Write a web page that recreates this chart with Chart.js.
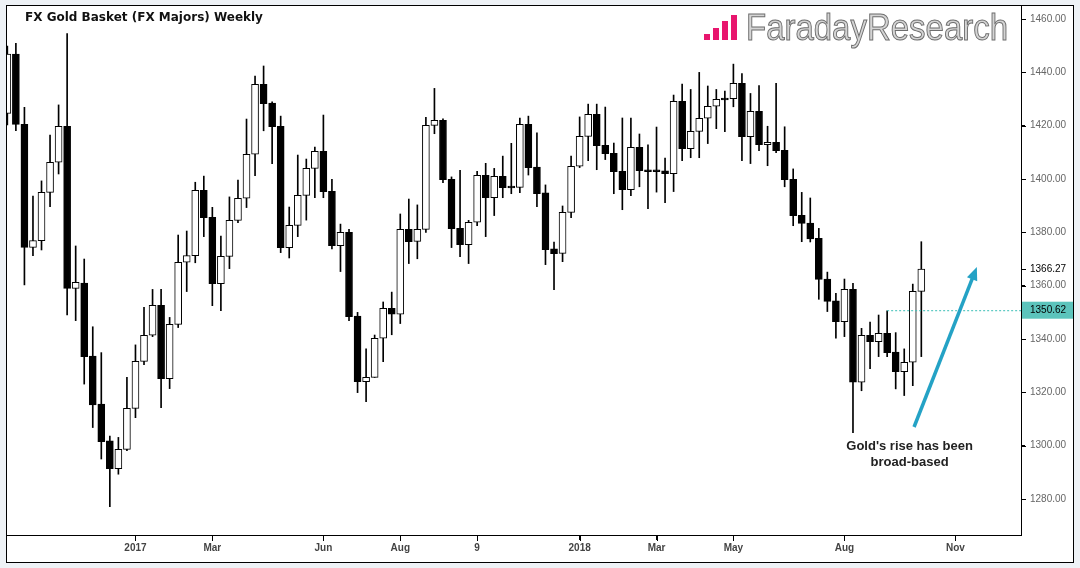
<!DOCTYPE html>
<html>
<head>
<meta charset="utf-8">
<title>FX Gold Basket (FX Majors) Weekly</title>
<script src="https://cdn.jsdelivr.net/npm/chart.js@4.4.1/dist/chart.umd.min.js"></script>
<style>
  html, body { margin: 0; padding: 0; background: #eef2f6; }
  #wrap { width: 1080px; height: 568px; }
</style>
</head>
<body>
<div id="wrap"><canvas id="goldChart" width="1080" height="568"></canvas></div>
<script>
// weekly OHLC (week index 0..107)
const opens = [
  1424.6, 1446.9, 1420.5, 1374.4, 1376.9, 1395.0, 1406.3, 1419.8, 1359.0, 1361.0,
  1333.6, 1315.6, 1301.8, 1291.4, 1298.6, 1314.0, 1331.6, 1341.4, 1352.6, 1325.1,
  1345.5, 1368.8, 1371.3, 1395.8, 1385.6, 1360.8, 1371.0, 1384.5, 1392.8, 1409.3,
  1435.5, 1428.5, 1419.8, 1374.3, 1382.6, 1393.9, 1404.0, 1410.4, 1395.4, 1375.0,
  1380.0, 1348.6, 1324.0, 1325.6, 1340.3, 1351.5, 1349.3, 1381.1, 1376.6, 1381.1,
  1420.1, 1422.0, 1399.9, 1381.5, 1375.4, 1383.8, 1401.4, 1393.0, 1401.0, 1397.4,
  1396.9, 1420.5, 1404.5, 1394.8, 1373.8, 1372.1, 1387.5, 1404.8, 1416.0, 1424.3,
  1412.6, 1409.6, 1402.9, 1396.0, 1411.9, 1403.5, 1403.5, 1403.1, 1402.0, 1429.1,
  1411.4, 1417.9, 1422.8, 1427.3, 1430.4, 1430.1, 1435.9, 1415.9, 1425.4, 1412.9,
  1413.8, 1410.8, 1399.9, 1386.4, 1383.5, 1377.8, 1362.5, 1354.3, 1346.5, 1358.6,
  1323.8, 1341.4, 1339.0, 1342.1, 1335.1, 1327.8, 1331.3, 1357.9
];
const highs = [
  1449.9, 1450.9, 1426.9, 1393.6, 1399.3, 1416.5, 1427.8, 1454.6, 1374.9, 1370.0,
  1344.6, 1334.9, 1303.6, 1303.1, 1325.6, 1337.8, 1351.9, 1358.6, 1358.6, 1348.1,
  1379.0, 1380.5, 1398.8, 1401.1, 1389.4, 1378.6, 1393.3, 1399.6, 1422.5, 1438.6,
  1442.4, 1429.0, 1423.6, 1389.5, 1409.0, 1407.5, 1412.0, 1424.0, 1399.9, 1383.1,
  1381.1, 1350.0, 1336.3, 1341.5, 1353.9, 1357.6, 1386.9, 1392.5, 1390.3, 1423.1,
  1434.0, 1422.6, 1400.8, 1403.3, 1384.5, 1402.9, 1405.9, 1404.0, 1408.6, 1413.4,
  1422.9, 1423.6, 1417.3, 1397.8, 1376.4, 1389.9, 1408.6, 1423.3, 1428.1, 1428.1,
  1427.0, 1413.5, 1422.9, 1422.9, 1416.9, 1412.8, 1419.5, 1407.9, 1431.5, 1435.6,
  1433.6, 1440.0, 1434.9, 1433.6, 1433.0, 1443.1, 1439.6, 1432.1, 1435.1, 1419.8,
  1435.9, 1419.6, 1403.8, 1395.0, 1392.9, 1381.5, 1365.1, 1357.1, 1362.5, 1360.9,
  1344.0, 1346.4, 1349.0, 1350.62, 1342.4, 1336.3, 1360.6, 1376.5
];
const lows = [
  1420.3, 1418.1, 1360.3, 1371.3, 1373.4, 1389.6, 1401.9, 1349.0, 1346.9, 1323.1,
  1306.8, 1295.0, 1277.1, 1289.3, 1298.1, 1310.5, 1330.4, 1340.9, 1314.3, 1321.4,
  1344.3, 1357.8, 1368.6, 1378.4, 1352.5, 1350.6, 1366.4, 1383.6, 1389.3, 1401.3,
  1418.1, 1405.8, 1372.4, 1370.4, 1378.4, 1384.6, 1393.0, 1393.0, 1373.8, 1365.3,
  1346.9, 1319.9, 1316.5, 1325.6, 1331.5, 1341.6, 1345.8, 1368.3, 1370.1, 1380.0,
  1417.0, 1398.6, 1374.3, 1370.9, 1368.3, 1382.5, 1378.4, 1386.3, 1393.0, 1394.5,
  1394.9, 1401.5, 1389.6, 1367.9, 1358.5, 1369.0, 1385.5, 1404.3, 1406.9, 1403.5,
  1407.3, 1394.5, 1388.5, 1393.8, 1397.1, 1388.9, 1395.1, 1391.1, 1395.3, 1406.9,
  1408.0, 1408.0, 1413.3, 1418.9, 1417.8, 1427.1, 1406.9, 1405.8, 1410.6, 1405.0,
  1409.9, 1397.1, 1382.5, 1376.5, 1376.4, 1354.9, 1350.3, 1340.3, 1340.9, 1304.9,
  1320.6, 1328.9, 1333.4, 1333.4, 1321.3, 1318.8, 1322.5, 1333.4
];
const closes = [
  1446.9, 1420.5, 1374.4, 1376.9, 1395.0, 1406.3, 1419.8, 1359.0, 1361.3, 1333.4,
  1315.3, 1301.5, 1291.4, 1298.6, 1314.0, 1331.6, 1341.4, 1352.6, 1325.1, 1345.5,
  1368.8, 1371.3, 1395.8, 1385.5, 1360.8, 1371.0, 1384.5, 1392.8, 1409.3, 1435.5,
  1428.3, 1419.6, 1374.3, 1382.6, 1393.9, 1404.0, 1410.4, 1395.3, 1375.0, 1380.0,
  1348.4, 1324.0, 1325.6, 1340.3, 1351.5, 1349.3, 1381.1, 1376.5, 1381.1, 1420.1,
  1422.0, 1399.8, 1381.4, 1375.4, 1383.8, 1401.4, 1393.0, 1401.0, 1396.8, 1396.7,
  1420.5, 1404.3, 1394.5, 1373.5, 1372.0, 1387.5, 1404.8, 1416.0, 1424.3, 1412.5,
  1409.5, 1402.8, 1396.0, 1411.9, 1403.1, 1402.8, 1402.8, 1402.0, 1429.1, 1411.4,
  1417.9, 1422.8, 1427.3, 1429.9, 1429.7, 1435.9, 1415.9, 1425.4, 1412.9, 1413.8,
  1410.6, 1399.8, 1386.3, 1383.4, 1377.5, 1362.4, 1354.1, 1346.5, 1358.6, 1323.8,
  1341.4, 1339.0, 1342.1, 1334.9, 1327.8, 1331.3, 1357.9, 1366.27
];

const xTickPos = [15, 24, 37, 46, 55, 67, 76, 85, 98, 111];
const xTickLabels = ['2017', 'Mar', 'Jun', 'Aug', '9', '2018', 'Mar', 'May', 'Aug', 'Nov'];
const yTicks = [1280, 1300, 1320, 1340, 1360, 1380, 1400, 1420, 1440, 1460];

const lastClose = 1366.27;
const levelValue = 1350.62;
const levelStart = 103;

// annotation, in week / price units
const arrowFrom = [106.15, 1307.0];
const arrowTo = [113.5, 1367.0];
const noteAt = [105.63, 1299.9];
const noteLines = ["Gold's rise has been", 'broad-based'];

const X_MIN = -0.04, X_MAX = 118.67;
const Y_MIN = 1266.5, Y_MAX = 1464.9;

const idx = closes.map((c, i) => i);
const wickData = idx.map(i => ({ x: i, y: [lows[i], highs[i]] }));
const bodyData = idx.map(i => ({ x: i, y: [opens[i], closes[i]] }));
const bodyFill = idx.map(i => closes[i] >= opens[i] ? '#ffffff' : '#000000');

const frame = {
  id: 'frame',
  beforeDraw(chart) {
    const { ctx, chartArea: a, scales } = chart;
    const right = scales.y.right, bottom = scales.x.bottom;
    ctx.save();
    ctx.fillStyle = '#eef2f6';
    ctx.fillRect(0, 0, chart.width, chart.height);
    ctx.fillStyle = '#ffffff';
    ctx.fillRect(a.left - 1, a.top - 1, right - a.left + 1, bottom - a.top + 1);
    ctx.strokeStyle = '#000';
    ctx.lineWidth = 1;
    ctx.strokeRect(a.left - 0.5, a.top - 0.5, right - a.left + 1, bottom - a.top + 1);
    ctx.strokeRect(a.left - 0.5, a.top - 0.5, a.right - a.left + 1, a.bottom - a.top + 1);
    ctx.restore();
  },
  afterDraw(chart) {
    // small tick marks outside the plot box
    const { ctx, chartArea: a, scales } = chart;
    const xs = scales.x, ys = scales.y;
    ctx.save();
    ctx.strokeStyle = '#000';
    ctx.lineWidth = 1;
    ctx.beginPath();
    xTickPos.forEach(v => {
      const px = Math.round(xs.getPixelForValue(v)) + 0.5;
      ctx.moveTo(px, a.bottom + 1);
      ctx.lineTo(px, a.bottom + 6);
    });
    yTicks.concat([lastClose]).forEach(v => {
      const py = Math.round(ys.getPixelForValue(v)) + 0.5;
      ctx.moveTo(a.right + 1, py);
      ctx.lineTo(a.right + 5, py);
    });
    ctx.stroke();
    ctx.restore();
  }
};

const decor = {
  id: 'decor',
  afterDraw(chart) {
    const { ctx, chartArea: a } = chart;
    const xs = chart.scales.x, ys = chart.scales.y;
    ctx.save();

    // title
    ctx.fillStyle = '#111';
    ctx.font = 'bold 12px "DejaVu Sans", sans-serif';
    ctx.textBaseline = 'middle';
    ctx.textAlign = 'left';
    ctx.fillText('FX Gold Basket (FX Majors) Weekly', a.left + 18, 18);

    // logo
    ctx.fillStyle = '#e8166e';
    [6, 12, 19, 25].forEach((h, k) => ctx.fillRect(704 + k * 9, 40 - h, 6, h));
    ctx.font = '36px "Liberation Sans Narrow", "Liberation Sans", sans-serif';
    ctx.textBaseline = 'alphabetic';
    const w = ctx.measureText('FaradayResearch').width;
    ctx.translate(746, 40);
    ctx.scale(262 / w, 1);
    ctx.fillStyle = '#d4d4d4';
    ctx.fillText('FaradayResearch', 0, 0);
    ctx.strokeStyle = '#6e6e6e';
    ctx.lineWidth = 1;
    ctx.strokeText('FaradayResearch', 0, 0);
    ctx.setTransform(1, 0, 0, 1, 0, 0);

    // arrow
    const x1 = xs.getPixelForValue(arrowFrom[0]), y1 = ys.getPixelForValue(arrowFrom[1]);
    const x2 = xs.getPixelForValue(arrowTo[0]), y2 = ys.getPixelForValue(arrowTo[1]);
    const ang = Math.atan2(y2 - y1, x2 - x1);
    const c = Math.cos(ang), s = Math.sin(ang);
    ctx.strokeStyle = '#24a2c5';
    ctx.fillStyle = '#24a2c5';
    ctx.lineWidth = 3.5;
    ctx.beginPath();
    ctx.moveTo(x1, y1);
    ctx.lineTo(x2 - 9 * c, y2 - 9 * s);
    ctx.stroke();
    ctx.beginPath();
    ctx.moveTo(x2, y2);
    ctx.lineTo(x2 - 13 * c - 5.5 * s, y2 - 13 * s + 5.5 * c);
    ctx.lineTo(x2 - 13 * c + 5.5 * s, y2 - 13 * s - 5.5 * c);
    ctx.closePath();
    ctx.fill();

    // note
    ctx.fillStyle = '#222';
    ctx.font = 'bold 13px "Liberation Sans", Arial, sans-serif';
    ctx.textAlign = 'center';
    ctx.textBaseline = 'middle';
    const nx = xs.getPixelForValue(noteAt[0]), ny = ys.getPixelForValue(noteAt[1]);
    noteLines.forEach((t, k) => ctx.fillText(t, nx, ny + k * 16));
    ctx.restore();
  }
};

const isMarker = v => v === lastClose || v === levelValue;

new Chart(document.getElementById('goldChart').getContext('2d'), {
  type: 'bar',
  data: {
    datasets: [
      {
        type: 'line',
        label: 'Level',
        data: [{ x: levelStart, y: levelValue }, { x: X_MAX, y: levelValue }],
        borderColor: '#39bdb5',
        borderWidth: 1,
        borderDash: [2, 2],
        pointRadius: 0,
        order: 0
      },
      {
        label: 'Body',
        data: bodyData,
        backgroundColor: bodyFill,
        borderColor: '#000',
        borderWidth: 1,
        borderSkipped: false,
        barThickness: 7,
        grouped: false,
        order: 1
      },
      {
        label: 'Wick',
        data: wickData,
        backgroundColor: '#000',
        borderWidth: 0,
        barThickness: 1,
        grouped: false,
        order: 2
      }
    ]
  },
  options: {
    responsive: false,
    animation: false,
    devicePixelRatio: 1,
    layout: { padding: { left: 7, top: 6, right: 7, bottom: 6 } },
    plugins: {
      legend: { display: false },
      tooltip: { enabled: false },
      title: { display: false }
    },
    scales: {
      x: {
        type: 'linear',
        min: X_MIN,
        max: X_MAX,
        bounds: 'data',
        offset: false,
        afterBuildTicks: s => { s.ticks = xTickPos.map(v => ({ value: v })); },
        afterFit: s => { s.height = 27; s.paddingLeft = 0; s.paddingRight = 0; },
        ticks: {
          autoSkip: false,
          maxRotation: 0,
          padding: 2,
          color: '#444',
          font: { family: '"Liberation Sans", Arial, sans-serif', size: 10, weight: 'bold' },
          callback: (v, i) => xTickLabels[i]
        },
        grid: {
          offset: false, drawOnChartArea: false, drawTicks: true, tickLength: 5,
          color: '#000', tickColor: '#000', tickWidth: 1, lineWidth: 1
        },
        border: { display: false }
      },
      y: {
        type: 'linear',
        position: 'right',
        min: Y_MIN,
        max: Y_MAX,
        bounds: 'data',
        afterBuildTicks: s => {
          s.ticks = yTicks.concat([lastClose, levelValue]).sort((p, q) => p - q).map(v => ({ value: v }));
        },
        afterFit: s => { s.width = 52; s.paddingTop = 0; s.paddingBottom = 0; },
        ticks: {
          autoSkip: false,
          padding: 5,
          font: { family: '"Liberation Sans", Arial, sans-serif', size: 10 },
          color: ctx => ctx.tick && isMarker(ctx.tick.value) ? '#000' : '#666',
          callback: v => v.toFixed(2),
          showLabelBackdrop: ctx => !!(ctx.tick && isMarker(ctx.tick.value)),
          backdropColor: ctx => ctx.tick && ctx.tick.value === levelValue ? '#5cc4bc' : '#ffffff',
          backdropPadding: { left: 8, right: 7, top: 3, bottom: 2 }
        },
        grid: {
          drawOnChartArea: false, drawTicks: true, tickLength: 4,
          color: '#000', tickColor: '#000', tickWidth: 1, lineWidth: 1
        },
        border: { display: false }
      }
    }
  },
  plugins: [frame, decor]
});
</script>
</body>
</html>
